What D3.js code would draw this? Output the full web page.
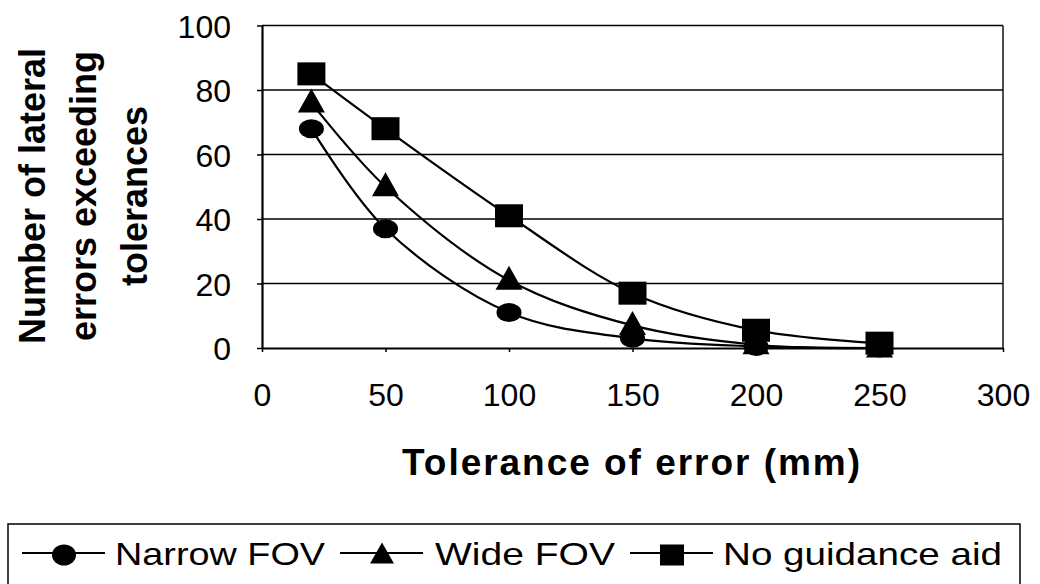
<!DOCTYPE html>
<html>
<head>
<meta charset="utf-8">
<script src="https://cdn.jsdelivr.net/npm/d3@7"></script>
<style>
  body { margin: 0; background: #fff; }
  svg { display: block; font-family: "Liberation Sans", Arial, sans-serif; }
</style>
</head>
<body>
<div id="chart"></div>
<script>
const tolerance = [20, 50, 100, 150, 200, 250];
const narrowFov = [68, 37, 11, 3, 0.5, 0];
const wideFov = [76, 50, 21, 7, 1, 0];
const noGuidance = [85, 68, 41, 17, 5.5, 1.5];
const xTicks = [0, 50, 100, 150, 200, 250, 300];
const yTicks = [0, 20, 40, 60, 80, 100];
const seriesNames = ["Narrow FOV", "Wide FOV", "No guidance aid"];
const markerTypes = ["circle", "triangle", "square"];

const width = 1040, height = 584;
const margin = { top: 25.5, right: 37, bottom: 236, left: 262 };

const svg = d3.select("#chart")
  .append("svg")
  .attr("width", width)
  .attr("height", height);

const xScale = d3.scaleLinear().domain([0, 300]).range([margin.left, width - margin.right]);
const yScale = d3.scaleLinear().domain([0, 100]).range([height - margin.bottom, margin.top]);

// grid lines
svg.append("g")
  .selectAll("line")
  .data(yTicks.filter(d => d > 0))
  .enter()
  .append("line")
  .attr("x1", xScale(0))
  .attr("x2", xScale(300))
  .attr("y1", d => yScale(d))
  .attr("y2", d => yScale(d))
  .attr("stroke", "#000")
  .attr("stroke-width", 1.6);

// right border
svg.append("line")
  .attr("x1", xScale(300)).attr("x2", xScale(300))
  .attr("y1", yScale(100)).attr("y2", yScale(0))
  .attr("stroke", "#000").attr("stroke-width", 1.4);

const yAxis = svg.append("g")
  .attr("transform", `translate(${xScale(0)},0)`)
  .call(d3.axisLeft(yScale).tickValues(yTicks).tickSize(5).tickSizeOuter(0).tickPadding(26));

const xAxis = svg.append("g")
  .attr("transform", `translate(0,${yScale(0)})`)
  .call(d3.axisBottom(xScale).tickValues(xTicks).tickSize(4).tickSizeOuter(0).tickPadding(31));

[yAxis, xAxis].forEach(ax => {
  ax.select(".domain").attr("stroke", "#000").attr("stroke-width", 2.2);
  ax.selectAll(".tick line").attr("stroke", "#000").attr("stroke-width", 1.5);
  ax.selectAll("text")
    .attr("fill", "#000")
    .style("font-size", "32px")
    .style("font-family", "'Liberation Sans', Arial, sans-serif");
});
yAxis.selectAll("text").attr("dy", "0.36em");
xAxis.selectAll("text").attr("dy", "0.72em");

// axis titles
svg.append("text")
  .attr("x", 631)
  .attr("y", 475)
  .attr("text-anchor", "middle")
  .attr("textLength", 458)
  .attr("lengthAdjust", "spacing")
  .style("font-size", "37px")
  .style("font-weight", "bold")
  .text("Tolerance of error (mm)");

const yTitle = ["Number of lateral", "errors exceeding", "tolerances"];
svg.append("g")
  .selectAll("text")
  .data(yTitle)
  .enter()
  .append("text")
  .attr("transform", (d, i) => `translate(${45 + i * 51},196) rotate(-90)`)
  .attr("text-anchor", "middle")
  .style("font-size", "36px")
  .style("font-weight", "bold")
  .text(d => d);

// series
const series = [narrowFov, wideFov, noGuidance].map((vals, i) => ({
  name: seriesNames[i],
  marker: markerTypes[i],
  points: tolerance.map((t, j) => ({ x: t, y: vals[j] }))
}));

const line = d3.line()
  .x(d => xScale(d.x))
  .y(d => yScale(d.y))
  .curve(d3.curveCatmullRom.alpha(0.5));

svg.append("g")
  .selectAll("path")
  .data(series)
  .enter()
  .append("path")
  .attr("d", d => line(d.points))
  .attr("fill", "none")
  .attr("stroke", "#000")
  .attr("stroke-width", 2.2);

const drawMarker = (g, type, w, h) => {
  if (type === "circle") {
    g.append("ellipse").attr("rx", w / 2).attr("ry", h / 2).attr("fill", "#000");
  } else if (type === "square") {
    g.append("rect").attr("x", -w / 2).attr("y", -h / 2).attr("width", w).attr("height", h).attr("fill", "#000");
  } else {
    g.append("path")
      .attr("d", `M0,${-h * 0.6}L${w / 2},${h * 0.4}L${-w / 2},${h * 0.4}Z`)
      .attr("fill", "#000");
  }
};

const markerSize = { circle: [25, 19], triangle: [27, 24], square: [28, 23] };

series.forEach(s => {
  s.points.forEach(p => {
    const g = svg.append("g").attr("transform", `translate(${xScale(p.x)},${yScale(p.y)})`);
    drawMarker(g, s.marker, markerSize[s.marker][0], markerSize[s.marker][1]);
  });
});

// legend
const legend = svg.append("g");
legend.append("rect")
  .attr("x", 8).attr("y", 524)
  .attr("width", 1012).attr("height", 62)
  .attr("fill", "none").attr("stroke", "#000").attr("stroke-width", 1.5);

const legendItems = [
  { lx: 22, tx: 115, tw: 210 },
  { lx: 340, tx: 435, tw: 180 },
  { lx: 630, tx: 723, tw: 279 }
];

legendItems.forEach((it, i) => {
  legend.append("line")
    .attr("x1", it.lx).attr("x2", it.lx + 83)
    .attr("y1", 553).attr("y2", 553)
    .attr("stroke", "#000").attr("stroke-width", 2.2);
  const g = legend.append("g").attr("transform", `translate(${it.lx + 42},${555})`);
  drawMarker(g, markerTypes[i], 24, 21);
  legend.append("text")
    .attr("x", it.tx)
    .attr("y", 565)
    .attr("textLength", it.tw)
    .attr("lengthAdjust", "spacingAndGlyphs")
    .style("font-size", "32px")
    .text(seriesNames[i]);
});
</script>
</body>
</html>
